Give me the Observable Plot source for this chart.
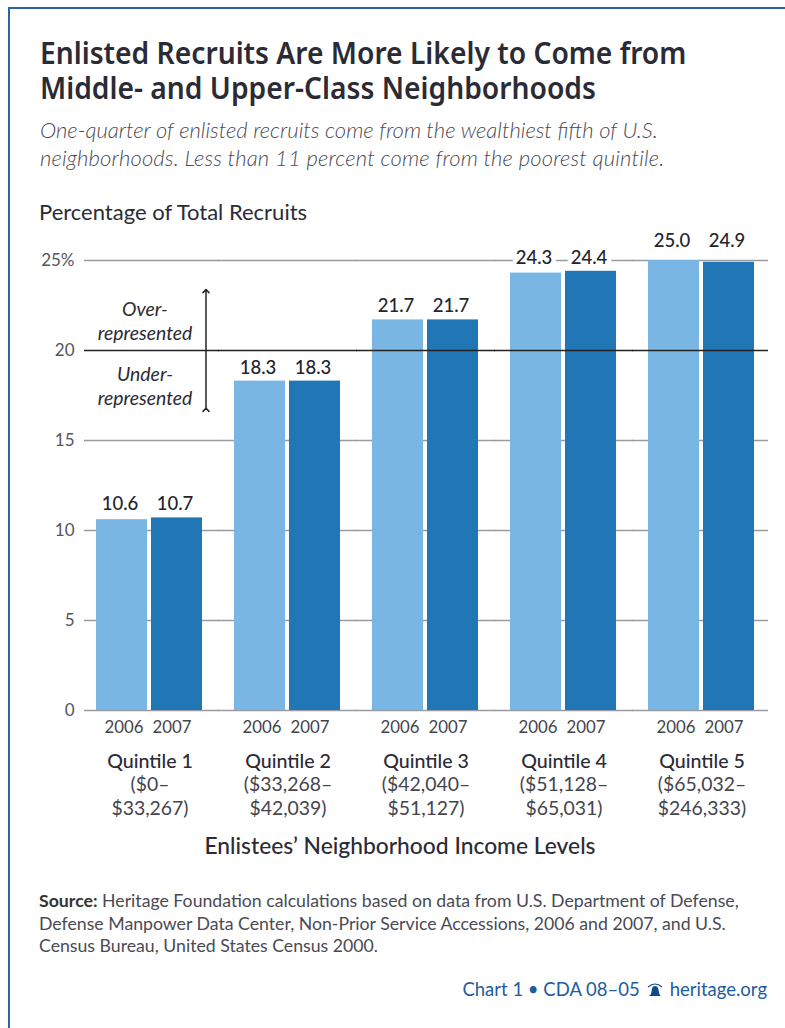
<!DOCTYPE html>
<html><head><meta charset="utf-8">
<script src="https://cdn.jsdelivr.net/npm/d3@7"></script>
<script src="https://cdn.jsdelivr.net/npm/@observablehq/plot@0.6"></script>
<style>
html,body{margin:0;padding:0;background:#fff;}
#page{position:relative;width:785px;height:1028px;overflow:hidden;font-family:Lato,sans-serif;color:#3a3a44;}
#border{position:absolute;left:8px;top:7px;width:800px;height:1100px;border:2px solid #2a66a3;box-sizing:border-box;}
.t{position:absolute;white-space:nowrap;margin:0;}
#title{left:40px;top:35px;font:600 30.5px/35px "Noto Sans",sans-serif;color:#2b2b35;transform-origin:0 0;transform:scaleX(.925);}
#sub{left:40px;top:116px;font:italic 300 22px/28px Lato,sans-serif;color:#4a4a55;}
#sub span{letter-spacing:.16px;}
#ytitle{left:39px;top:199px;font:400 22px/26px Lato,sans-serif;color:#2b2b35;}
#chart{position:absolute;left:0;top:240px;}
#src{left:39px;top:890px;font:400 17.7px/22.5px Lato,sans-serif;color:#4a4a55;}
#src b{color:#333;}
#credit{right:18px;top:977px;font:400 18.5px/24px Lato,sans-serif;color:#1d5c9e;}
#credit svg{vertical-align:-3px;margin:0 6px;}
</style></head><body>
<div id="page">
<div id="border"></div>
<h1 class="t" id="title">Enlisted Recruits Are More Likely to Come from<br>Middle- and Upper-Class Neighborhoods</h1>
<p class="t" id="sub">One-quarter of enlisted recruits come from the wealthiest fifth of U.S.<br><span>neighborhoods. Less than 11 percent come from the poorest quintile.</span></p>
<p class="t" id="ytitle">Percentage of Total Recruits</p>
<div id="chart"></div>
<p class="t" id="src"><b>Source:</b> Heritage Foundation calculations based on data from U.S. Department of Defense,<br>Defense Manpower Data Center, Non-Prior Service Accessions, 2006 and 2007, and U.S.<br>Census Bureau, United States Census 2000.</p>
<p class="t" id="credit">Chart 1 • CDA 08–05<svg width="18" height="17" viewBox="0 0 18 17"><path d="M9 4c-3 0-3 3-3.500 6S4 13 3 14h12c-1-1-1.500-1-2-4S12 4 9 4z" fill="#0f4a8a"/><path d="M2 5Q9-1 16 5" fill="none" stroke="#0f4a8a" stroke-width="1.200"/></svg>heritage.org</p>
</div>
<script>
const quintiles = ["Quintile 1","Quintile 2","Quintile 3","Quintile 4","Quintile 5"];
const ranges = ["($0–\n$33,267)","($33,268–\n$42,039)","($42,040–\n$51,127)","($51,128–\n$65,031)","($65,032–\n$246,333)"];
const years = ["2006","2007"];
const values2006 = [10.6,18.3,21.7,24.3,25.0];
const values2007 = [10.7,18.3,21.7,24.4,24.9];
const lightTicks = [0,5,10,15,25];
const heavyTicks = [20];
const yTicks = [0,5,10,15,20,25];
const xLabel = "Enlistees’ Neighborhood Income Levels";

const rows = quintiles.flatMap((q,i)=>[
  {q,year:"2006",v:values2006[i],top:Math.max(values2006[i],values2007[i])},
  {q,year:"2007",v:values2007[i],top:Math.max(values2006[i],values2007[i])}
]);
const rangeOf = Object.fromEntries(quintiles.map((q,i)=>[q,ranges[i]]));
const lastQ = quintiles[4];

// Horizontal rules run across the gaps between the facets.
const rules = (ticks, stroke) => quintiles.map((q,i)=>Plot.ruleY(ticks,{
  fx:()=>q, stroke, strokeWidth:1.5,
  insetLeft:i===0?-12:-16, insetRight:i===4?-13:-16
}));
const valueLabel = {fx:"q",x:"year",y:"top",text:d=>d.v.toFixed(1),dx:-2,fontSize:18.5,fontWeight:500,fill:"#24242c",stroke:"white",strokeWidth:9};

const chart = Plot.plot({
  width:785,height:650,
  marginLeft:83,marginRight:17,marginTop:20,marginBottom:180,
  style:{background:"transparent",fontFamily:"Lato,sans-serif",overflow:"visible"},
  fx:{domain:quintiles,paddingInner:.2246,paddingOuter:.09,label:null},
  x:{domain:years,paddingInner:.07,paddingOuter:0,label:null},
  y:{domain:[0,25],label:null},
  color:{domain:years,range:["#79b6e3","#2176b6"]},
  marks:[
    ...rules(lightTicks,"#9a9aa0"),
    Plot.barY(rows,{fx:"q",x:"year",y:"v",fill:"year"}),
    ...rules(heavyTicks,"#222"),
    Plot.text(rows.filter(d=>d.q!==lastQ),{...valueLabel,dy:-13.5}),
    Plot.text(rows.filter(d=>d.q===lastQ),{...valueLabel,dy:-19}),
    Plot.link([{q:quintiles[0]}],{fx:"q",x1:()=>"2007",x2:()=>"2007",y1:()=>16.7,y2:()=>23.3,dx:29,stroke:"#222",strokeWidth:1.5,markerStart:"arrow",markerEnd:"arrow"}),
    Plot.text([{q:quintiles[0],t:"Over-\nrepresented",y:21.7},{q:quintiles[0],t:"Under-\nrepresented",y:18.05}],
      {fx:"q",x:()=>"2006",y:"y",text:"t",dx:23,fontSize:19.4,fontStyle:"italic",lineHeight:1.24,fill:"#2b2b35"}),
    Plot.axisY({ticks:yTicks,anchor:"left",tickSize:0,tickPadding:22,fontSize:17,fill:"#55555f",label:null,
      tickFormat:d=>d===25?"25%":String(d)}),
    Plot.axisX({ticks:["2006"],anchor:"bottom",tickSize:0,tickPadding:11,dx:2,fontSize:16.8,fill:"#44444e",label:null}),
    Plot.axisX({ticks:["2007"],anchor:"bottom",tickSize:0,tickPadding:11,dx:-5,fontSize:16.8,fill:"#44444e",label:null}),
    Plot.axisFx({anchor:"bottom",tickSize:0,tickPadding:44,fontSize:19.6,fontWeight:500,fill:"#2b2b35",label:null}),
    Plot.axisFx({anchor:"bottom",tickSize:0,tickPadding:64,fontSize:19.4,lineHeight:1.23,fill:"#44444e",label:null,tickFormat:q=>rangeOf[q]})
  ]
});
d3.select(chart).append("text").attr("x",400).attr("y",614).attr("text-anchor","middle")
  .attr("font-size",22.8).attr("font-weight",500).attr("fill","#2b2b35").text(xLabel);
document.getElementById("chart").append(chart);
</script>
</body></html>
